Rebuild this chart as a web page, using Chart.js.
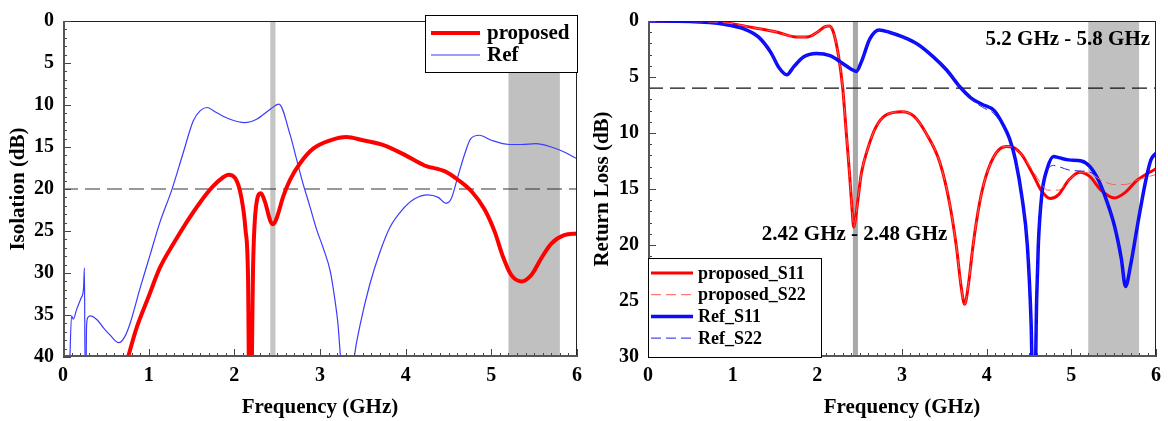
<!DOCTYPE html>
<html>
<head>
<meta charset="utf-8">
<script src="https://cdn.jsdelivr.net/npm/chart.js@4.4.0/dist/chart.umd.min.js"></script>
<style>
  html, body { margin: 0; padding: 0; background: #fff; }
  #wrap { position: relative; width: 1168px; height: 421px; }
  #isoChart { position: absolute; left: 0; top: 0; }
  #rlChart { position: absolute; left: 590px; top: 0; }
</style>
</head>
<body>
<div id="wrap">
  <canvas id="isoChart" width="590" height="421"></canvas>
  <canvas id="rlChart" width="578" height="421"></canvas>
</div>
<script>
// ---- data (frequency in GHz, level in dB) ----

// left: isolation
var isoPropF = [0.72, 0.76, 0.86, 1.0, 1.13, 1.29, 1.44, 1.6, 1.75, 1.87, 1.93, 2.01, 2.08, 2.13, 2.16, 2.175, 2.195, 2.22, 2.26, 2.31, 2.36, 2.42, 2.455, 2.5, 2.57, 2.65, 2.77, 2.92, 3.12, 3.31, 3.5, 3.75, 4.0, 4.22, 4.46, 4.61, 4.77, 4.92, 5.04, 5.13, 5.23, 5.35, 5.47, 5.58, 5.7, 5.85, 6.0];
var isoPropDb = [41.5, 40, 36.5, 32.8, 29.4, 26.5, 24.0, 21.6, 19.7, 18.6, 18.3, 18.7, 20.9, 24.8, 30.6, 45, 45, 28.7, 21.6, 20.5, 21.6, 23.8, 24.2, 23.3, 20.9, 18.9, 16.9, 15.2, 14.2, 13.8, 14.2, 14.8, 16.0, 17.2, 17.9, 18.9, 20.3, 22.4, 25.1, 27.9, 30.2, 31.0, 30.2, 28.3, 26.5, 25.5, 25.3];

var isoRefF = [0.075, 0.1, 0.12, 0.16, 0.21, 0.24, 0.25, 0.258, 0.268, 0.275, 0.29, 0.32, 0.4, 0.47, 0.55, 0.65, 0.72, 0.78, 0.9, 1.015, 1.13, 1.27, 1.4, 1.52, 1.6, 1.68, 1.79, 1.95, 2.12, 2.26, 2.42, 2.52, 2.65, 2.73, 2.8, 2.88, 2.96, 3.04, 3.12, 3.17, 3.21, 3.24, 3.27, 3.38, 3.4, 3.47, 3.58, 3.7, 3.82, 3.95, 4.1, 4.26, 4.38, 4.47, 4.53, 4.61, 4.69, 4.76, 4.86, 5.0, 5.21, 5.35, 5.52, 5.7, 5.85, 6.0];
var isoRefDb = [42, 35.1, 35.5, 34.3, 33.0, 31.8, 29.4, 42, 42, 36.3, 35.3, 35.1, 35.6, 36.5, 37.4, 38.3, 37.6, 36.1, 31.8, 27.9, 24.0, 20.1, 15.8, 11.9, 10.7, 10.3, 10.9, 11.7, 12.1, 11.7, 10.5, 9.9, 13.5, 16.6, 19.3, 22.0, 24.8, 27.1, 29.8, 32.9, 36.1, 40, 42, 42, 40, 36.1, 31.4, 27.5, 24.5, 22.6, 21.2, 20.7, 21.0, 21.7, 21.2, 18.5, 15.8, 14.0, 13.6, 14.2, 14.7, 14.7, 14.6, 15.0, 15.6, 16.4];

var isoLimit = 20;
var isoBands = [[2.42, 2.48], [5.2, 5.8]];

// right: return loss
var rlPropS11F = [0, 0.5, 0.9, 1.25, 1.53, 1.72, 1.88, 2.0, 2.09, 2.14, 2.19, 2.25, 2.3, 2.34, 2.38, 2.41, 2.43, 2.46, 2.52, 2.6, 2.69, 2.81, 3.0, 3.14, 3.29, 3.45, 3.56, 3.64, 3.7, 3.74, 3.78, 3.84, 3.91, 3.99, 4.11, 4.23, 4.32, 4.42, 4.54, 4.65, 4.75, 4.85, 4.97, 5.1, 5.22, 5.35, 5.51, 5.63, 5.78, 6.0];
var rlPropS11Db = [0, 0.05, 0.15, 0.6, 1.0, 1.4, 1.43, 1.0, 0.5, 0.44, 1.0, 3.1, 6.0, 9.8, 13.6, 16.8, 18.4, 17.1, 13.6, 11.3, 9.5, 8.4, 8.1, 8.5, 10.1, 12.7, 16.2, 20.0, 23.8, 25.3, 23.8, 20.0, 16.5, 13.9, 11.8, 11.2, 11.3, 12.0, 13.6, 15.2, 15.85, 15.5, 14.2, 13.5, 13.9, 15.1, 15.8, 15.35, 14.2, 13.2];

var rlPropS22F = [0, 0.5, 0.9, 1.25, 1.53, 1.72, 1.88, 2.0, 2.09, 2.14, 2.19, 2.25, 2.3, 2.34, 2.38, 2.41, 2.43, 2.46, 2.52, 2.6, 2.69, 2.81, 3.0, 3.14, 3.29, 3.45, 3.56, 3.64, 3.7, 3.74, 3.78, 3.84, 3.91, 3.99, 4.11, 4.23, 4.32, 4.42, 4.54, 4.65, 4.72, 4.85, 4.97, 5.1, 5.22, 5.35, 5.51, 5.63, 5.78, 6.0];
var rlPropS22Db = [0, 0.05, 0.15, 0.6, 1.0, 1.4, 1.43, 1.0, 0.5, 0.44, 1.0, 3.1, 6.0, 9.8, 13.6, 16.8, 18.4, 17.1, 13.6, 11.3, 9.5, 8.4, 8.1, 8.5, 10.1, 12.7, 16.2, 20.0, 23.8, 25.3, 23.8, 20.0, 16.5, 13.9, 11.8, 11.2, 11.3, 12.0, 13.3, 14.6, 15.1, 15.1, 14.2, 13.5, 13.6, 14.2, 14.6, 14.6, 14.2, 13.7];

var rlRefS11F = [0, 0.5, 0.9, 1.14, 1.31, 1.45, 1.55, 1.64, 1.72, 1.84, 1.99, 2.15, 2.3, 2.4, 2.46, 2.52, 2.62, 2.73, 2.85, 3.0, 3.18, 3.37, 3.53, 3.68, 3.82, 3.95, 4.09, 4.19, 4.27, 4.34, 4.42, 4.48, 4.525, 4.545, 4.57, 4.59, 4.61, 4.65, 4.71, 4.79, 4.85, 4.97, 5.12, 5.22, 5.32, 5.41, 5.51, 5.59, 5.64, 5.7, 5.78, 5.88, 5.94, 6.0];
var rlRefS11Db = [0, 0.05, 0.3, 0.73, 1.46, 2.8, 4.2, 4.8, 4.1, 3.2, 2.9, 3.1, 3.8, 4.3, 4.5, 3.65, 1.6, 0.8, 1.0, 1.4, 2.05, 3.2, 4.4, 5.85, 6.9, 7.45, 8.0, 9.2, 10.5, 12.4, 15.9, 20.0, 27, 33, 33, 25, 20, 15.6, 13.3, 12.1, 12.2, 12.4, 12.5, 13.0, 14.2, 15.9, 18.3, 21.2, 23.7, 21.8, 18.3, 14.2, 12.4, 11.8];

var rlRefS22F = [0, 0.5, 0.9, 1.14, 1.31, 1.45, 1.55, 1.64, 1.72, 1.84, 1.99, 2.15, 2.3, 2.4, 2.46, 2.52, 2.62, 2.73, 2.85, 3.0, 3.18, 3.37, 3.53, 3.68, 3.82, 3.95, 4.09, 4.19, 4.27, 4.34, 4.42, 4.48, 4.525, 4.545, 4.57, 4.59, 4.61, 4.65, 4.71, 4.79, 4.85, 4.97, 5.12, 5.22, 5.32, 5.41, 5.51, 5.59, 5.64, 5.7, 5.78, 5.88, 5.94, 6.0];
var rlRefS22Db = [0, 0.05, 0.3, 0.73, 1.46, 2.8, 4.2, 4.8, 4.1, 3.2, 2.9, 3.1, 3.8, 4.3, 4.5, 3.65, 1.6, 0.8, 1.0, 1.4, 2.05, 3.2, 4.4, 5.85, 7.0, 7.7, 8.3, 9.4, 10.6, 12.4, 15.9, 20.0, 27, 33, 33, 25, 20, 15.6, 13.5, 12.9, 13.0, 13.3, 13.4, 13.5, 14.2, 15.9, 18.3, 21.2, 23.7, 21.8, 18.3, 14.2, 12.4, 11.8];

var rlLimit = 6;
var rlBands = [[2.42, 2.48], [5.2, 5.8]];
var bandText1 = '2.42 GHz - 2.48 GHz';
var bandText2 = '5.2 GHz - 5.8 GHz';

// ---- helpers ----
var SERIF = '"Liberation Serif", "Times New Roman", serif';
Chart.defaults.font.family = SERIF;
Chart.defaults.font.weight = 'bold';
Chart.defaults.color = '#000';

function pts(fs, vs) {
  return fs.map(function (f, i) { return { x: f, y: vs[i] }; });
}

// grey frequency bands behind the curves
var bandPlugin = {
  id: 'bands',
  beforeDatasetsDraw: function (chart, args, opts) {
    var xs = chart.scales.x, a = chart.chartArea, ctx = chart.ctx;
    ctx.save();
    (opts.items || []).forEach(function (b) {
      var x1 = xs.getPixelForValue(b.range[0]);
      var x2 = xs.getPixelForValue(b.range[1]);
      ctx.fillStyle = b.color;
      ctx.fillRect(x1, a.top, x2 - x1, a.bottom - a.top);
    });
    ctx.restore();
  }
};

// frame + inward major/minor ticks
var framePlugin = {
  id: 'frame',
  afterDatasetsDraw: function (chart, args, o) {
    var ctx = chart.ctx, a = chart.chartArea, xs = chart.scales.x, ys = chart.scales.y;
    var i, n, v, p, major;
    ctx.save();
    ctx.strokeStyle = '#222';
    ctx.lineWidth = 1;
    ctx.strokeRect(a.left + 0.5, a.top + 0.5, a.right - a.left - 1, a.bottom - a.top - 1);

    ctx.strokeStyle = '#444';
    n = Math.round((xs.max - xs.min) / o.xMinor);
    for (i = 0; i <= n; i++) {
      v = xs.min + i * o.xMinor;
      major = i % Math.round(o.xMajor / o.xMinor) === 0;
      p = Math.round(xs.getPixelForValue(v)) + 0.5;
      ctx.beginPath();
      ctx.moveTo(p, a.bottom);
      ctx.lineTo(p, a.bottom - (major ? 8 : 4));
      ctx.stroke();
    }
    n = Math.round((ys.max - ys.min) / o.yMinor);
    for (i = 0; i <= n; i++) {
      v = ys.min + i * o.yMinor;
      major = i % Math.round(o.yMajor / o.yMinor) === 0;
      p = Math.round(ys.getPixelForValue(v)) + 0.5;
      ctx.beginPath();
      ctx.moveTo(a.left, p);
      ctx.lineTo(a.left + (major ? 8 : 4), p);
      ctx.stroke();
    }
    // heavier left / bottom axes
    ctx.strokeStyle = '#555';
    ctx.lineWidth = 2;
    ctx.beginPath();
    ctx.moveTo(a.left + 1, a.top);
    ctx.lineTo(a.left + 1, a.bottom - 1);
    ctx.lineTo(a.right, a.bottom - 1);
    ctx.stroke();
    ctx.restore();
  }
};

// legend drawn in a box inside the plot
var boxLegendPlugin = {
  id: 'boxLegend',
  afterDraw: function (chart, args, o) {
    var ctx = chart.ctx;
    ctx.save();
    ctx.fillStyle = '#fff';
    ctx.fillRect(o.x, o.y, o.w, o.h);
    ctx.strokeStyle = '#000';
    ctx.lineWidth = 1;
    ctx.strokeRect(o.x + 0.5, o.y + 0.5, o.w, o.h);
    ctx.font = 'bold ' + o.size + 'px ' + SERIF;
    ctx.textBaseline = 'middle';
    ctx.textAlign = 'left';
    o.labels.forEach(function (lab, row) {
      var ds = chart.data.datasets.filter(function (d) { return d.label === lab; })[0];
      var y = o.y + o.first + row * o.step;
      ctx.strokeStyle = ds.borderColor;
      ctx.lineWidth = ds.borderWidth;
      ctx.setLineDash(ds.borderDash || []);
      ctx.beginPath();
      ctx.moveTo(o.x + o.lineStart, y);
      ctx.lineTo(o.x + o.lineEnd, y);
      ctx.stroke();
      ctx.setLineDash([]);
      ctx.fillStyle = '#000';
      ctx.fillText(lab, o.x + o.textX, y + 1);
    });
    ctx.restore();
  }
};

// text notes anchored to data coordinates
var notePlugin = {
  id: 'notes',
  afterDatasetsDraw: function (chart, args, o) {
    var ctx = chart.ctx;
    ctx.save();
    ctx.font = 'bold ' + o.size + 'px ' + SERIF;
    ctx.fillStyle = '#000';
    ctx.textBaseline = 'middle';
    (o.items || []).forEach(function (it) {
      ctx.textAlign = it.align;
      ctx.fillText(it.text, chart.scales.x.getPixelForValue(it.x), chart.scales.y.getPixelForValue(it.y));
    });
    ctx.restore();
  }
};

function axes(yMax, yWidth, yTitle) {
  return {
    x: {
      type: 'linear', min: 0, max: 6,
      grid: { display: false, drawTicks: false },
      border: { display: false },
      ticks: { stepSize: 1, padding: 7, font: { size: 20, weight: 'bold' }, color: '#000' },
      title: { display: true, text: 'Frequency (GHz)', font: { size: 21, weight: 'bold' }, color: '#000', padding: { top: 0, bottom: 1 } },
      afterFit: function (s) { s.height = 64; }
    },
    y: {
      type: 'linear', min: 0, max: yMax, reverse: true,
      grid: { display: false, drawTicks: false },
      border: { display: false },
      ticks: { stepSize: 5, padding: 9, font: { size: 20, weight: 'bold' }, color: '#000' },
      title: { display: true, text: yTitle, font: { size: 21, weight: 'bold' }, color: '#000', padding: { top: yWidth > 60 ? 6 : 0, bottom: 0 } },
      afterFit: function (s) { s.width = yWidth; }
    }
  };
}

function line(label, data, color, width, dash) {
  return {
    label: label, data: data, borderColor: color, borderWidth: width,
    borderDash: dash || [], pointRadius: 0, fill: false,
    cubicInterpolationMode: 'monotone'
  };
}

// ---- left chart: isolation ----
new Chart(document.getElementById('isoChart'), {
  type: 'line',
  data: {
    datasets: [
      line('proposed', pts(isoPropF, isoPropDb), '#ff0000', 4),
      line('Ref', pts(isoRefF, isoRefDb), '#3b3bff', 1.2),
      line('', pts([0, 6], [isoLimit, isoLimit]), '#333', 1.2, [15, 7])
    ]
  },
  options: {
    responsive: false, animation: false, devicePixelRatio: 1,
    layout: { padding: { left: 0, right: 13, top: 15, bottom: 0 } },
    scales: axes(40, 63, 'Isolation (dB)'),
    plugins: {
      legend: { display: false },
      tooltip: { enabled: false },
      bands: { items: [
        { range: isoBands[0], color: '#c4c4c4' },
        { range: isoBands[1], color: '#c0c0c0' }
      ] },
      frame: { xMinor: 0.1, xMajor: 1, yMinor: 1, yMajor: 5 },
      boxLegend: { labels: ['proposed', 'Ref'], x: 425, y: 15, w: 152, h: 57, first: 18, step: 22,
        lineStart: 6, lineEnd: 55, textX: 62, size: 21 }
    }
  },
  plugins: [bandPlugin, framePlugin, boxLegendPlugin]
});

// ---- right chart: return loss ----
new Chart(document.getElementById('rlChart'), {
  type: 'line',
  data: {
    datasets: [
      line('proposed_S22', pts(rlPropS22F, rlPropS22Db), '#ff5a5a', 1, [10, 5]),
      line('Ref_S22', pts(rlRefS22F, rlRefS22Db), '#2020e0', 1, [10, 5]),
      line('Ref_S11', pts(rlRefS11F, rlRefS11Db), '#0a0aff', 3.5),
      line('proposed_S11', pts(rlPropS11F, rlPropS11Db), '#ff0000', 3),
      line('', pts([0, 6], [rlLimit, rlLimit]), '#111', 1.2, [15, 7])
    ]
  },
  options: {
    responsive: false, animation: false, devicePixelRatio: 1,
    layout: { padding: { left: 0, right: 6, top: 15, bottom: 0 } },
    scales: axes(30, 58, 'Return Loss (dB)'),
    plugins: {
      legend: { display: false },
      tooltip: { enabled: false },
      bands: { items: [
        { range: rlBands[0], color: '#a8a8a8' },
        { range: rlBands[1], color: '#c0c0c0' }
      ] },
      frame: { xMinor: 0.1, xMajor: 1, yMinor: 1, yMajor: 5 },
      notes: { size: 21, items: [
        { text: bandText1, x: 2.44, y: 19.1, align: 'center' },
        { text: bandText2, x: 5.93, y: 1.65, align: 'right' }
      ] },
      boxLegend: { labels: ['proposed_S11', 'proposed_S22', 'Ref_S11', 'Ref_S22'], x: 58, y: 258, w: 173, h: 99,
        first: 15, step: 21.7, lineStart: 3, lineEnd: 45, textX: 50, size: 18 }
    }
  },
  plugins: [bandPlugin, notePlugin, framePlugin, boxLegendPlugin]
});
</script>
</body>
</html>
